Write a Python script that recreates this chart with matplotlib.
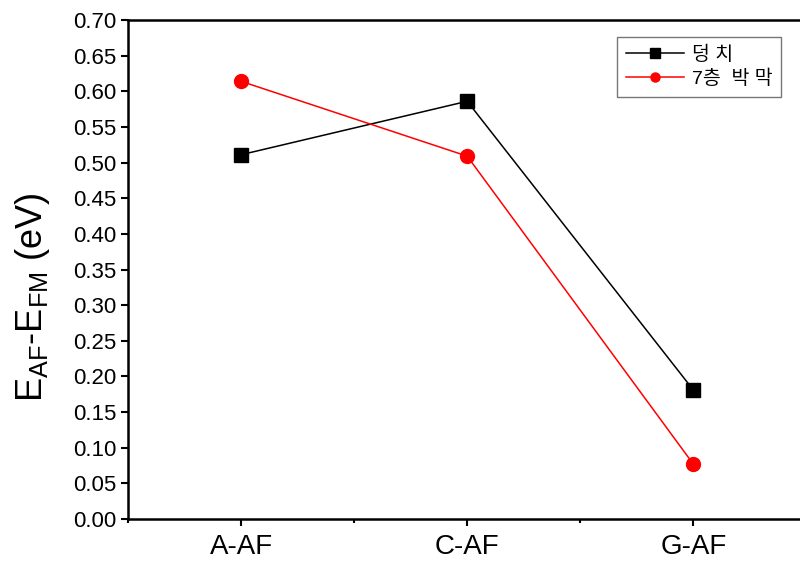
import matplotlib.pyplot as plt
import numpy as np
from matplotlib.ticker import MultipleLocator

plt.rcParams['font.family'] = ['Liberation Sans', 'Noto Sans CJK KR', 'DejaVu Sans']
plt.rcParams['mathtext.fontset'] = 'custom'
plt.rcParams['mathtext.rm'] = 'Liberation Sans'
plt.rcParams['mathtext.it'] = 'Liberation Sans'

# datos
categorias = ['A-AF', 'C-AF', 'G-AF']
bulk = [0.511, 0.586, 0.181]
film7 = [0.614, 0.509, 0.077]
etiquetas = ['덩 치', '7층  박 막']

fig = plt.figure(figsize=(8, 5.65), dpi=100)
ax = fig.add_axes([0.16, 0.0814, 0.848, 0.8832])

x = np.arange(len(categorias))
ax.plot(x, bulk, '-s', color='black', lw=1.1, ms=10, label=etiquetas[0])
ax.plot(x, film7, '-o', color='red', lw=1.1, ms=10, label=etiquetas[1])

ax.set_xlim(-0.5, 2.5)
ax.set_xticks(x)
ax.set_xticklabels(categorias, fontsize=20)
ax.xaxis.set_minor_locator(MultipleLocator(0.5))
ax.set_yticks(np.arange(0, 0.701, 0.05))
ax.set_yticklabels(['%.2f' % v for v in ax.get_yticks()], fontsize=16)
ax.set_ylim(0, 0.70)

ax.tick_params(axis='both', which='major', direction='out', length=5, width=1.5)
ax.tick_params(axis='x', which='minor', direction='out', length=3, width=1.5)
ax.tick_params(axis='x', pad=6)
for s in ax.spines.values():
    s.set_linewidth(1.8)

ax.set_ylabel(r'E$_{\rm AF}$-E$_{\rm FM}$ (eV)', fontsize=26)
ax.yaxis.set_label_coords(-0.112, 0.445)

leg = ax.legend(loc='upper left', bbox_to_anchor=(0.771, 0.9345),
                bbox_transform=fig.transFigure, borderaxespad=0,
                fontsize=14, frameon=True, fancybox=False, markerscale=0.65,
                handlelength=3.0, handletextpad=0.4, labelspacing=0.3,
                borderpad=0.45)
leg.get_frame().set_edgecolor('#555555')
leg.get_frame().set_linewidth(1.0)

fig.savefig('out.png', dpi=100)
